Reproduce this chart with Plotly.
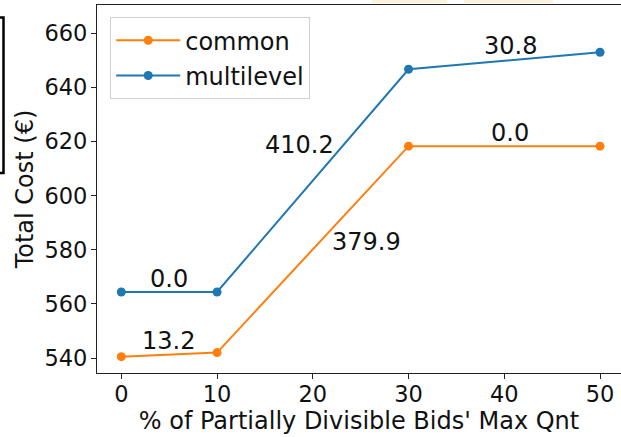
import plotly.graph_objects as go

# ---- data ----
x_pct = [0, 10, 30, 50]
common = [540.5, 542.0, 618.3, 618.3]
multilevel = [564.4, 564.4, 646.7, 653.0]
ann_text = ["0.0", "13.2", "410.2", "379.9", "30.8", "0.0"]
ann_x = [5.0, 4.9, 18.6, 25.6, 40.7, 40.6]
ann_y = [569.2, 546.2, 618.8, 583.0, 655.2, 623.3]
x_ticks = [0, 10, 20, 30, 40, 50]
y_ticks = [540, 560, 580, 600, 620, 640, 660]

W, H = 621, 437
ML, MR, MT, MB = 97, 0, 5, 64
PW = W - ML - MR
PH = H - MT - MB


def px_x(p):
    return (p - ML) / PW


def px_y(p):
    return 1 - (p - MT) / PH


FONT = "DejaVu Sans, Liberation Sans, sans-serif"
ORANGE = "#ff7f0e"
BLUE = "#1f77b4"
TICK_SIZE = 22.5
LABEL_SIZE = 24

fig = go.Figure()
fig.add_trace(go.Scatter(
    x=x_pct, y=common, name="common", mode="lines+markers",
    line=dict(color=ORANGE, width=2), marker=dict(color=ORANGE, size=9),
    legendgroup="a"))
fig.add_trace(go.Scatter(
    x=x_pct, y=multilevel, name="multilevel", mode="lines+markers",
    line=dict(color=BLUE, width=2), marker=dict(color=BLUE, size=9),
    legendgroup="b"))

for t, ax_, ay_ in zip(ann_text, ann_x, ann_y):
    fig.add_annotation(x=ax_, y=ay_, text=t, showarrow=False,
                       xanchor="center", yanchor="middle",
                       font=dict(family=FONT, size=LABEL_SIZE, color="#111"))

shapes = [
    # partial black box at the left edge (screenshot artefact)
    dict(type="rect", xref="paper", yref="paper",
         x0=px_x(-20), x1=px_x(3.5), y0=px_y(173), y1=px_y(17.5),
         line=dict(color="black", width=2.5), fillcolor="rgba(0,0,0,0)"),
    # faint yellow bands at the very top
    dict(type="rect", xref="paper", yref="paper",
         x0=px_x(372), x1=px_x(447), y0=px_y(3), y1=px_y(-1),
         line=dict(width=0), fillcolor="#fdf3dc"),
    dict(type="rect", xref="paper", yref="paper",
         x0=px_x(464), x1=px_x(553), y0=px_y(3), y1=px_y(-1),
         line=dict(width=0), fillcolor="#fdf3dc"),
]

fig.update_layout(
    width=W, height=H,
    margin=dict(l=ML, r=MR, t=MT, b=MB, pad=0, autoexpand=False),
    paper_bgcolor="white", plot_bgcolor="white",
    font=dict(family=FONT, size=LABEL_SIZE, color="#111"),
    shapes=shapes,
    showlegend=True,
    legend=dict(
        x=px_x(110), y=px_y(17), xanchor="left", yanchor="top",
        bgcolor="white", bordercolor="#d0d0d0", borderwidth=1.2,
        font=dict(family=FONT, size=LABEL_SIZE, color="#111"),
        tracegroupgap=1, traceorder="grouped", itemwidth=64,
    ),
    xaxis=dict(
        range=[-2.54, 52.19], tickmode="array", tickvals=x_ticks,
        showgrid=False, zeroline=False, automargin=False,
        showline=True, linecolor="#222", linewidth=1.3, mirror=True,
        ticks="outside", ticklen=5, tickcolor="#222", tickwidth=1.2,
        ticklabelstandoff=-4,
        title=dict(text="% of Partially Divisible Bids' Max Qnt",
                   font=dict(family=FONT, size=LABEL_SIZE, color="#111"), standoff=0),
        tickfont=dict(family=FONT, size=TICK_SIZE, color="#111"),
    ),
    yaxis=dict(
        range=[534.46, 670.46], tickmode="array", tickvals=y_ticks,
        showgrid=False, zeroline=False, automargin=False,
        showline=True, linecolor="#222", linewidth=1.3,
        ticks="outside", ticklen=5, tickcolor="#222", tickwidth=1.2,
        ticklabelstandoff=-1,
        title=dict(text="Total Cost (€)",
                   font=dict(family=FONT, size=LABEL_SIZE, color="#111"), standoff=3),
        tickfont=dict(family=FONT, size=TICK_SIZE, color="#111"),
    ),
)

fig.write_html("out.html",
               config={"displayModeBar": False},
               post_script="document.body.style.margin='0';"
                           "document.body.style.overflow='hidden';")
